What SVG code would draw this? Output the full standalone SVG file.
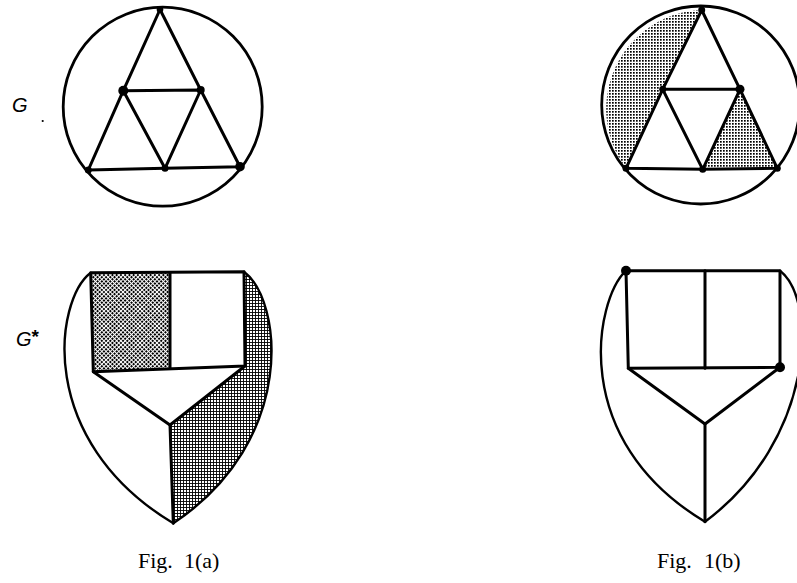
<svg xmlns="http://www.w3.org/2000/svg" width="797" height="583" viewBox="0 0 797 583">
<style>
.edge{fill:none;stroke:#000;stroke-width:3;stroke-linejoin:round;stroke-linecap:round}
.ring{fill:none;stroke:#000;stroke-width:2.8}
.arc{fill:none;stroke:#000;stroke-width:2.4;stroke-linecap:round}
.v{fill:#000}
.lab{font-family:"Liberation Sans",Arial,sans-serif;font-style:italic;font-size:20px;fill:#000}
.cap{font-family:"Liberation Serif","Times New Roman",serif;font-size:22px;fill:#000}
</style>
<defs>
<pattern id="dotL" width="3" height="3" patternUnits="userSpaceOnUse"><rect width="1.7" height="1.7" fill="#000"/></pattern>
<pattern id="dotD" width="3" height="3" patternUnits="userSpaceOnUse" patternTransform="rotate(45)"><rect width="2" height="2" fill="#000"/></pattern>
<pattern id="grid" width="3" height="3" patternUnits="userSpaceOnUse"><path d="M0 0.5H3M0.5 0V3" stroke="#000" stroke-width="0.9"/></pattern>
</defs>
<rect width="797" height="583" fill="#fff"/>

<!-- shaded regions -->
<g id="shading">
<path d="M701.7 10 A99 99 0 0 0 626 168.3 Z" fill="url(#dotL)"/>
<polygon points="740,89.3 702.7,169.3 777.3,168.3" fill="url(#dotL)"/>
<polygon points="90.7,272.7 170,272.7 170,367.3 93.3,371.7" fill="url(#dotD)"/>
<path d="M244 271.7 L245 366 L170 425 L173.3 523.3 C298 440 282 300 244 271.7 Z" fill="url(#grid)"/>
</g>

<!-- connectors -->
<g id="connectors">
<circle class="ring" cx="162.7" cy="106.7" r="99.5"/>
<polyline class="edge" points="160,9.5 123.3,90.7 88.3,170 165,168.3 240,166.7 200.7,90 160,9.5"/>
<polygon class="edge" points="123.3,90.7 200.7,90 165,168.3"/>

<circle class="ring" cx="700.7" cy="105" r="99"/>
<polyline class="edge" points="701.7,10 662.7,89.3 626,168.3 702.7,169.3 777.3,168.3 740,89.3 701.7,10"/>
<polygon class="edge" points="662.7,89.3 740,89.3 702.7,169.3"/>

<path class="arc" d="M90.7 272.7 C55 300 35 440 173.3 523.3"/>
<path class="arc" d="M244 271.7 C282 300 298 440 173.3 523.3"/>
<polygon class="edge" points="90.7,272.7 244,271.7 245,366 93.3,371.7"/>
<line class="edge" x1="170" y1="272.7" x2="170" y2="367.3"/>
<polyline class="edge" points="93.3,371.7 170,425 245,366"/>
<line class="edge" x1="170" y1="425" x2="173.3" y2="523.3"/>

<path class="arc" d="M626 270.7 C595 300 568 440 705 521.7"/>
<path class="arc" d="M780 270.7 C818 300 815 440 705 521.7"/>
<polygon class="edge" points="626,270.7 780,270.7 780,367.3 628.3,368.3"/>
<line class="edge" x1="705" y1="270.7" x2="705" y2="368.3"/>
<polyline class="edge" points="628.3,368.3 705,424 780,367.3"/>
<line class="edge" x1="705" y1="424" x2="705" y2="521.7"/>
</g>

<!-- nodes of G (a) -->
<g id="a-top"><circle class="v" cx="160" cy="9.5" r="3.3"/></g>
<g id="a-left"><circle class="v" cx="123.3" cy="90.7" r="5"/></g>
<g id="a-right"><circle class="v" cx="200.7" cy="90" r="4"/></g>
<g id="a-botleft"><circle class="v" cx="88.3" cy="170" r="3.5"/></g>
<g id="a-botmid"><circle class="v" cx="165" cy="168.3" r="3.5"/></g>
<g id="a-botright"><circle class="v" cx="240" cy="166.7" r="4.8"/></g>

<!-- nodes of G (b) -->
<g id="b-top"><circle class="v" cx="701.7" cy="10" r="3.5"/></g>
<g id="b-left"><circle class="v" cx="662.7" cy="89.3" r="3.5"/></g>
<g id="b-right"><circle class="v" cx="740" cy="89.3" r="4.5"/></g>
<g id="b-botleft"><circle class="v" cx="626" cy="168.3" r="3.5"/></g>
<g id="b-botmid"><circle class="v" cx="702.7" cy="169.3" r="3.5"/></g>
<g id="b-botright"><circle class="v" cx="777.3" cy="168.3" r="3.5"/></g>

<!-- nodes of G* (b) -->
<g id="bs-topleft"><circle class="v" cx="626" cy="270.7" r="5"/></g>
<g id="bs-botright"><circle class="v" cx="780" cy="367.3" r="5"/></g>

<!-- labels -->
<g id="label-G"><text class="lab" x="12" y="112">G</text><circle class="v" cx="42.7" cy="121" r="1.1"/></g>
<g id="label-Gstar"><text class="lab" x="16" y="346">G<tspan font-size="19" font-style="normal" font-weight="bold" dy="-3">*</tspan></text></g>
<g id="caption-a"><text class="cap" x="138" y="568">Fig.<tspan x="184">1(a)</tspan></text></g>
<g id="caption-b"><text class="cap" x="657" y="568">Fig.<tspan x="704">1(b)</tspan></text></g>
</svg>
